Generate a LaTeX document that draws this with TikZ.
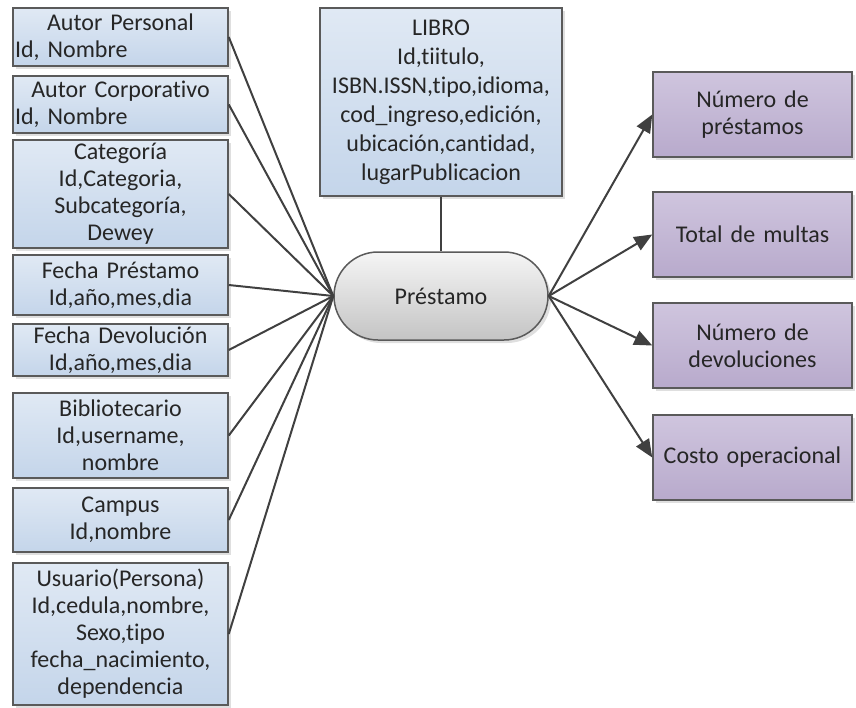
\documentclass[tikz,border=0pt]{standalone}
\usepackage{fontspec}
\setmainfont{Carlito}[Ligatures=NoCommon]
\usepackage{tikz}
\usetikzlibrary{arrows.meta}
\usetikzlibrary{shadows}
\usepackage{xcolor}
\definecolor{ColA}{RGB}{224,233,244}
\definecolor{ColB}{RGB}{196,213,234}
\definecolor{ColC}{RGB}{207,197,222}
\definecolor{ColD}{RGB}{184,170,204}
\definecolor{ColE}{RGB}{245,245,245}
\definecolor{ColF}{RGB}{196,196,196}
\definecolor{ColG}{RGB}{90,90,90}
\definecolor{ColH}{RGB}{64,64,64}
\tikzstyle{BoxBase}=[rectangle,draw=ColG,line width=.75pt,inner xsep=1pt,inner ysep=0pt,
align=center,text=black!85,font=\fontsize{12}{13.5}\selectfont,
drop shadow={opacity=.25,shadow xshift=1.5pt,shadow yshift=-1.5pt}]
\tikzstyle{DimBox}=[BoxBase,top color=ColA,bottom color=ColB,text width=105.5pt]
\tikzstyle{FactNode}=[BoxBase,rounded corners=22pt,top color=ColE,bottom color=ColF,
minimum width=107pt,minimum height=44pt]
\tikzstyle{MeasureBox}=[BoxBase,top color=ColC,bottom color=ColD,text width=97.5pt,
minimum height=42.5pt]
\tikzstyle{LinkLine}=[ColH,line width=1pt]
\tikzstyle{ArrowLine}=[ColH,line width=1pt,-{Triangle[length=9pt,width=7.5pt]}]

\begin{document}
\begin{tikzpicture}[x=.5pt,y=-.5pt]
    \useasboundingbox(0,0)rectangle(856,707);
    % dimensiones
    \node[DimBox,minimum height=29pt](ap)at(120.5,37){Autor Personal\\\makebox[\linewidth][l]{Id, Nombre}};
    \node[DimBox,minimum height=28.5pt](ac)at(120.5,104.5){Autor Corporativo\\\makebox[\linewidth][l]{Id, Nombre}};
    \node[DimBox,minimum height=54pt](cat)at(120.5,194){Categoría\\Id,Categoria,\\Subcategoría,\\Dewey};
    \node[DimBox,minimum height=30pt](fp)at(120.5,285){Fecha Préstamo\\Id,año,mes,dia};
    \node[DimBox,minimum height=26pt](fd)at(120.5,350){Fecha Devolución\\Id,año,mes,dia};
    \node[DimBox,minimum height=42.5pt](bib)at(120.5,435.5){Bibliotecario\\Id,username,\\nombre};
    \node[DimBox,minimum height=32pt](cam)at(120.5,520){Campus\\Id,nombre};
    \node[DimBox,minimum height=71pt](usu)at(120.5,634){Usuario(Persona)\\Id,cedula,nombre,\\Sexo,tipo\\fecha\_nacimiento,\\dependencia};
    \node[DimBox,text width=119pt,minimum height=94pt,font=\fontsize{12}{14.5}\selectfont](lib)at(441,102){LIBRO\\Id,tiitulo,\\ISBN.ISSN,tipo,idioma,\\cod\_ingreso,edición,\\ubicación,cantidad,\\lugarPublicacion};
    % hecho
    \node[FactNode](pr)at(441,296){Préstamo};
    % medidas
    \node[MeasureBox](np)at(752.5,114.5){Número de\\préstamos};
    \node[MeasureBox](tm)at(752.5,234.5){Total de multas};
    \node[MeasureBox](nd)at(752.5,345.5){Número de\\devoluciones};
    \node[MeasureBox](co)at(752.5,457.5){Costo operacional};
    \draw[LinkLine](ap.east)--(pr.west);
    \draw[LinkLine](ac.east)--(pr.west);
    \draw[LinkLine](cat.east)--(pr.west);
    \draw[LinkLine](fp.east)--(pr.west);
    \draw[LinkLine](fd.east)--(pr.west);
    \draw[LinkLine](bib.east)--(pr.west);
    \draw[LinkLine](cam.east)--(pr.west);
    \draw[LinkLine](usu.east)--(pr.west);
    \draw[LinkLine](lib)--(pr);
    \draw[ArrowLine](pr.east)--(np.west);
    \draw[ArrowLine](pr.east)--(tm.west);
    \draw[ArrowLine](pr.east)--(nd.west);
    \draw[ArrowLine](pr.east)--(co.west);
\end{tikzpicture}
\end{document}
